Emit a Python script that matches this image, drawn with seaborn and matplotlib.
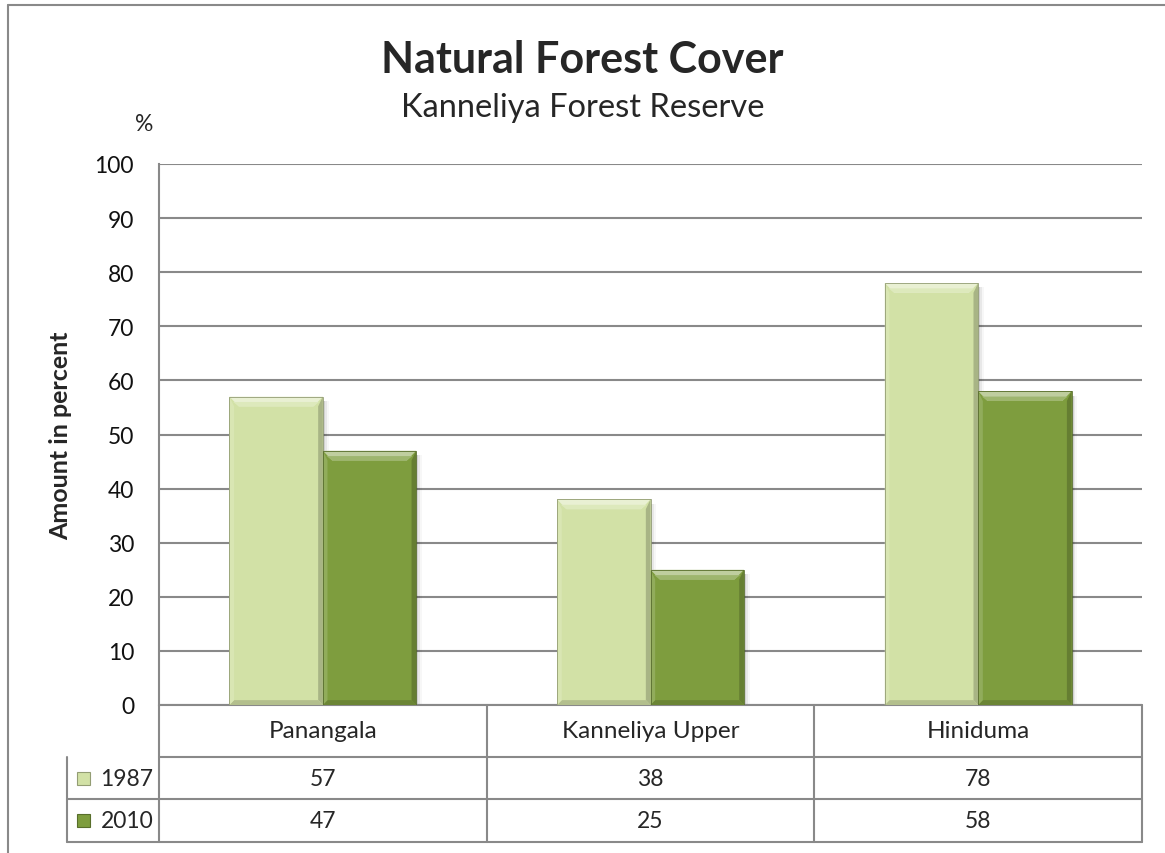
import numpy as np
import pandas as pd
import seaborn as sns
import matplotlib.pyplot as plt
from matplotlib.patches import Rectangle, Polygon
from matplotlib.lines import Line2D
from matplotlib.colors import to_rgb

# data
sites = ["Panangala", "Kanneliya Upper", "Hiniduma"]
years = ["1987", "2010"]
cover_1987 = [57, 38, 78]
cover_2010 = [47, 25, 58]
bar_colors = ["#D2E1A6", "#7E9D3E"]

df = pd.DataFrame({
    "site": sites * 2,
    "year": [years[0]] * 3 + [years[1]] * 3,
    "cover": cover_1987 + cover_2010,
})

sns.set_style("white")
plt.rcParams["font.family"] = ["Lato", "DejaVu Sans"]
grid_col = "#898989"
fs = 16.5

W, H = 1165, 854
fig = plt.figure(figsize=(W / 100, H / 100), dpi=100)
ax = fig.add_axes([159 / W, 1 - 706 / H, 983 / W, 541 / H])

sns.barplot(data=df, x="site", y="cover", hue="year", palette=bar_colors,
            width=0.57, gap=0, saturation=1, linewidth=0, legend=False,
            ax=ax, zorder=3)


def shade(c, f):
    c = np.array(to_rgb(c))
    if f > 0:
        return tuple(c + (1 - c) * f)
    return tuple(c * (1 + f))


# bevel look on every bar
for p in ax.patches:
    x0, w, h = p.get_x(), p.get_width(), p.get_height()
    c = p.get_facecolor()
    dx, dy = w * 0.1, 1.8
    # soft shadow
    for k, a in enumerate([0.10, 0.06, 0.03]):
        ax.add_patch(Rectangle((x0 + w, 0), 0.006 * (k + 1), h - 0.8, color="#000000",
                               alpha=a, lw=0, zorder=2))
    ax.add_patch(Polygon([(x0, h), (x0 + w, h), (x0 + w - dx, h - dy), (x0 + dx, h - dy)],
                         closed=True, color=shade(c, 0.5), lw=0, zorder=4))
    ax.add_patch(Polygon([(x0 + dx * 0.4, h - dy * 0.55), (x0 + w - dx * 0.4, h - dy * 0.55),
                          (x0 + w - dx, h - dy), (x0 + dx, h - dy)],
                         closed=True, color=shade(c, 0.25), lw=0, zorder=4))
    ax.add_patch(Polygon([(x0 + w, h), (x0 + w, 0), (x0 + w - dx * 0.5, dy * 0.5),
                          (x0 + w - dx * 0.5, h - dy)],
                         closed=True, color=shade(c, -0.2), lw=0, zorder=4))
    ax.add_patch(Polygon([(x0, 0), (x0 + w, 0), (x0 + w - dx * 0.5, dy * 0.5), (x0 + dx * 0.5, dy * 0.5)],
                         closed=True, color=shade(c, -0.15), lw=0, zorder=4))
    ax.add_patch(Polygon([(x0, h), (x0 + dx * 0.5, h - dy), (x0 + dx * 0.5, dy * 0.5), (x0, 0)],
                         closed=True, color=shade(c, 0.15), lw=0, zorder=4))
    ax.add_patch(Rectangle((x0, 0), w, h, fill=False, edgecolor=shade(c, -0.3), lw=0.6, zorder=5))

ax.set_xlim(-0.5, 2.5)
ax.set_ylim(0, 100)
ax.set_yticks(range(0, 101, 10))
ax.tick_params(axis="y", labelsize=fs, pad=18, length=0, labelcolor="#111111")
ax.set_xticks([])
ax.set_xlabel("")
ax.yaxis.grid(True, color=grid_col, lw=1.5)
ax.set_axisbelow(True)
for s in ["top", "right", "bottom"]:
    ax.spines[s].set_visible(False)
ax.spines["left"].set_color(grid_col)
ax.spines["left"].set_linewidth(1.5)
ax.set_ylabel("Amount in percent", fontsize=18, fontweight="bold", labelpad=16)
ax.text(-0.015, 1.075, "%", transform=ax.transAxes, fontsize=fs, ha="center", va="center")

# data table under the plot
tr = ax.get_xaxis_transform()
row_y = [0, -0.096, -0.174, -0.253]
key_x = -0.0936
lk = dict(color=grid_col, lw=1.5, clip_on=False)
for j, y in enumerate(row_y):
    if j < 2:
        ax.add_line(Line2D([-0.5, 2.5], [y, y], transform=tr, **lk))
    else:
        ax.add_line(Line2D([key_x, 1.0], [y, y], transform=ax.transAxes, **lk))
for i in range(len(sites) + 1):
    ax.add_line(Line2D([i - 0.5, i - 0.5], [0, row_y[-1]], transform=tr, **lk))
ax.add_line(Line2D([key_x, key_x], [row_y[1], row_y[-1]], transform=ax.transAxes, **lk))

for i, s in enumerate(sites):
    ax.text(i, (row_y[0] + row_y[1]) / 2, s, transform=tr, ha="center", va="center", fontsize=17.5)
for r, vals in enumerate([cover_1987, cover_2010]):
    ymid = (row_y[r + 1] + row_y[r + 2]) / 2
    for i, v in enumerate(vals):
        ax.text(i, ymid, str(v), transform=tr, ha="center", va="center", fontsize=fs)
    # legend key square
    ax.add_patch(Rectangle((key_x + 0.01, ymid - 0.012), 0.013, 0.024, transform=ax.transAxes,
                           facecolor=bar_colors[r], edgecolor=shade(bar_colors[r], -0.3),
                           lw=0.8, clip_on=False))
    ax.text(key_x + 0.034, ymid, years[r], transform=ax.transAxes, ha="left", va="center", fontsize=fs)

# titles
fig.text(0.5, 1 - 60 / H, "Natural Forest Cover", ha="center", va="center",
         fontsize=31, fontweight="bold")
fig.text(0.5, 1 - 108 / H, "Kanneliya Forest Reserve", ha="center", va="center", fontsize=23.5)

# outer chart frame
fig.add_artist(Line2D([8 / W, 1.01], [1 - 6 / H, 1 - 6 / H], transform=fig.transFigure, color=grid_col, lw=1.5))
fig.add_artist(Line2D([8 / W, 8 / W], [1 - 6 / H, -0.01], transform=fig.transFigure, color=grid_col, lw=1.5))

fig.savefig("out.png", dpi=100)
